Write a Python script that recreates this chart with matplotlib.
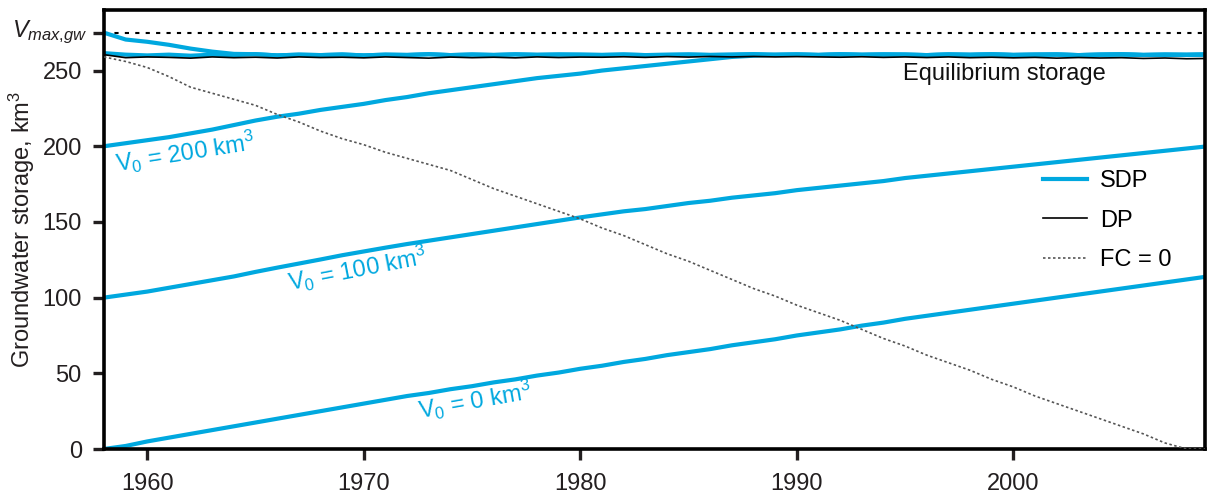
import numpy as np
import matplotlib
matplotlib.use("Agg")
import matplotlib.pyplot as plt

plt.rcParams['font.family'] = ['Liberation Sans', 'DejaVu Sans']
plt.rcParams['mathtext.fontset'] = 'custom'
plt.rcParams['mathtext.rm'] = 'Liberation Sans'
plt.rcParams['mathtext.it'] = 'Liberation Sans:italic'

# annual values, km3
years = np.arange(1958, 2010)

sdp_eq = np.array([261.5, 260.5, 260.0, 260.5, 259.8, 260.5, 260.2, 260.8, 260.0, 260.5,
                   260.2, 260.6, 260.0, 260.5, 260.3, 260.8, 260.2, 260.6, 260.3, 260.7,
                   260.4, 260.6, 260.5, 260.3, 260.6, 260.2, 260.4, 260.6, 260.3, 260.5,
                   260.8, 260.4, 260.6, 260.3, 260.7, 260.4, 260.6, 260.5, 260.2, 260.6,
                   260.4, 260.7, 260.3, 260.5, 260.6, 260.2, 260.5, 260.7, 260.3, 260.5,
                   260.4, 260.6])

sdp_max_start = [275.0, 270.5, 269.0, 267.0, 264.5, 262.5, 261.0]
sdp_max = np.r_[sdp_max_start, sdp_eq[len(sdp_max_start):]]

sdp_200_start = [200.0, 202.0, 204.0, 206.0, 208.5, 211.0, 214.0, 217.0, 219.5, 221.5,
                 224.0, 226.0, 228.0, 230.5, 232.5, 235.0, 237.0, 239.0, 241.0, 243.0,
                 245.0, 246.5, 248.0, 250.0, 251.5, 253.0, 254.5, 256.0, 257.5, 259.0,
                 259.8]
sdp_200 = np.r_[sdp_200_start, sdp_eq[len(sdp_200_start):]]

sdp_100 = np.array([100.0, 102.0, 104.0, 106.5, 109.0, 111.5, 114.0, 117.0, 119.8, 122.5,
                    125.2, 128.0, 130.5, 133.0, 135.4, 137.6, 139.8, 142.0, 144.2, 146.4,
                    148.6, 150.8, 153.0, 155.0, 157.0, 158.5, 160.5, 162.5, 164.0, 166.0,
                    167.5, 169.0, 171.0, 172.5, 174.0, 175.5, 177.0, 179.0, 180.5, 182.0,
                    183.5, 185.0, 186.5, 188.0, 189.5, 191.0, 192.5, 194.0, 195.5, 197.0,
                    198.5, 200.0])

sdp_0 = np.array([0.0, 2.0, 5.0, 7.5, 10.0, 12.5, 15.0, 17.5, 20.0, 22.5,
                  25.0, 27.5, 30.0, 32.5, 35.0, 37.0, 39.5, 41.5, 44.0, 46.0,
                  48.5, 50.5, 53.0, 55.0, 57.5, 59.5, 62.0, 64.0, 66.0, 68.5,
                  70.5, 72.5, 75.0, 77.0, 79.0, 81.5, 83.5, 86.0, 88.0, 90.0,
                  92.0, 94.0, 96.0, 98.0, 100.0, 102.0, 104.0, 106.0, 108.0, 110.0,
                  112.0, 114.0])

dp = np.array([260.5, 258.5, 259.0, 258.7, 258.2, 259.0, 258.5, 258.8, 258.3, 259.0,
               258.6, 258.8, 258.4, 259.0, 258.6, 258.2, 258.9, 258.5, 258.8, 258.4,
               259.0, 258.6, 258.9, 258.8, 259.1, 258.7, 259.2, 258.9, 259.3, 259.0,
               259.3, 259.0, 259.2, 259.0, 258.8, 259.1, 258.7, 259.0, 258.6, 259.0,
               258.5, 258.8, 258.4, 258.7, 258.2, 258.6, 258.3, 258.5, 258.0, 258.3,
               257.8, 258.0])

fc0 = np.array([259, 256, 252, 246, 239, 235, 231, 227, 221, 216,
                210, 205, 201, 196, 192, 188, 184, 178, 172, 167,
                162, 157, 152, 146, 141, 135, 129, 124, 118, 112,
                106, 101, 95, 90, 85, 79, 73, 68, 62, 57,
                52, 46, 41, 35, 30, 25, 20, 15, 10, 4,
                0, 0], dtype=float)

v_max = 275
blue = '#00A8DF'
ink = '#231F20'

fig = plt.figure(figsize=(12.08, 4.99), dpi=100)
ax = fig.add_axes([104 / 1208, 1 - 449 / 499, 1101 / 1208, 439 / 499])

ax.axhline(v_max, color='black', lw=1.5, ls=(0, (2, 3)), zorder=1)

for s in [sdp_eq, sdp_max, sdp_200, sdp_100, sdp_0]:
    ax.plot(years, s, color=blue, lw=3, solid_capstyle='butt', zorder=2)
ax.plot([], [], color=blue, lw=3, label='SDP')
ax.plot(years, dp, color='black', lw=1.2, zorder=3, label='DP')
ax.plot(years, fc0, color='#555555', lw=1.2, ls=(0, (1.5, 1.5)), zorder=3, label='FC = 0')

ax.set_xlim(1958, 2008.85)
ax.set_ylim(0, 290)

ax.set_xticks([1960, 1970, 1980, 1990, 2000])
ax.set_yticks([0, 50, 100, 150, 200, 250, v_max])
ax.set_yticklabels(['0', '50', '100', '150', '200', '250', ''])

for sp in ax.spines.values():
    sp.set_linewidth(2.6)
ax.tick_params(axis='both', direction='out', length=8, width=2.4, labelsize=17, colors=ink)
ax.tick_params(axis='y', pad=8)
ax.tick_params(axis='x', pad=9)

# V_max label sits closer to the axis than the number labels
ax.text(-0.0145, v_max, r'$\mathit{V}_{\mathit{max{,}gw}}$', transform=ax.get_yaxis_transform(),
        fontsize=17, ha='right', va='center', color=ink)

ax.set_ylabel('Groundwater storage, km$^3$', fontsize=17, color=ink, labelpad=4)

ax.text(1999.6, 247.5, 'Equilibrium storage', fontsize=17, ha='center', va='center', color='#111111')

ax.text(1958.6, 183, r'V$_0$ = 200 km$^3$', fontsize=17, color=blue, rotation=9,
        rotation_mode='anchor', ha='left', va='baseline')
ax.text(1966.6, 104, r'V$_0$ = 100 km$^3$', fontsize=17, color=blue, rotation=11,
        rotation_mode='anchor', ha='left', va='baseline')
ax.text(1972.6, 20, r'V$_0$ = 0 km$^3$', fontsize=17, color=blue, rotation=10,
        rotation_mode='anchor', ha='left', va='baseline')

ax.legend(loc='upper left', bbox_to_anchor=(0.853, 0.636), frameon=False, fontsize=17,
          handlelength=1.85, handletextpad=0.55, labelspacing=0.75,
          borderpad=0, borderaxespad=0)

fig.savefig('out.png', dpi=100)
